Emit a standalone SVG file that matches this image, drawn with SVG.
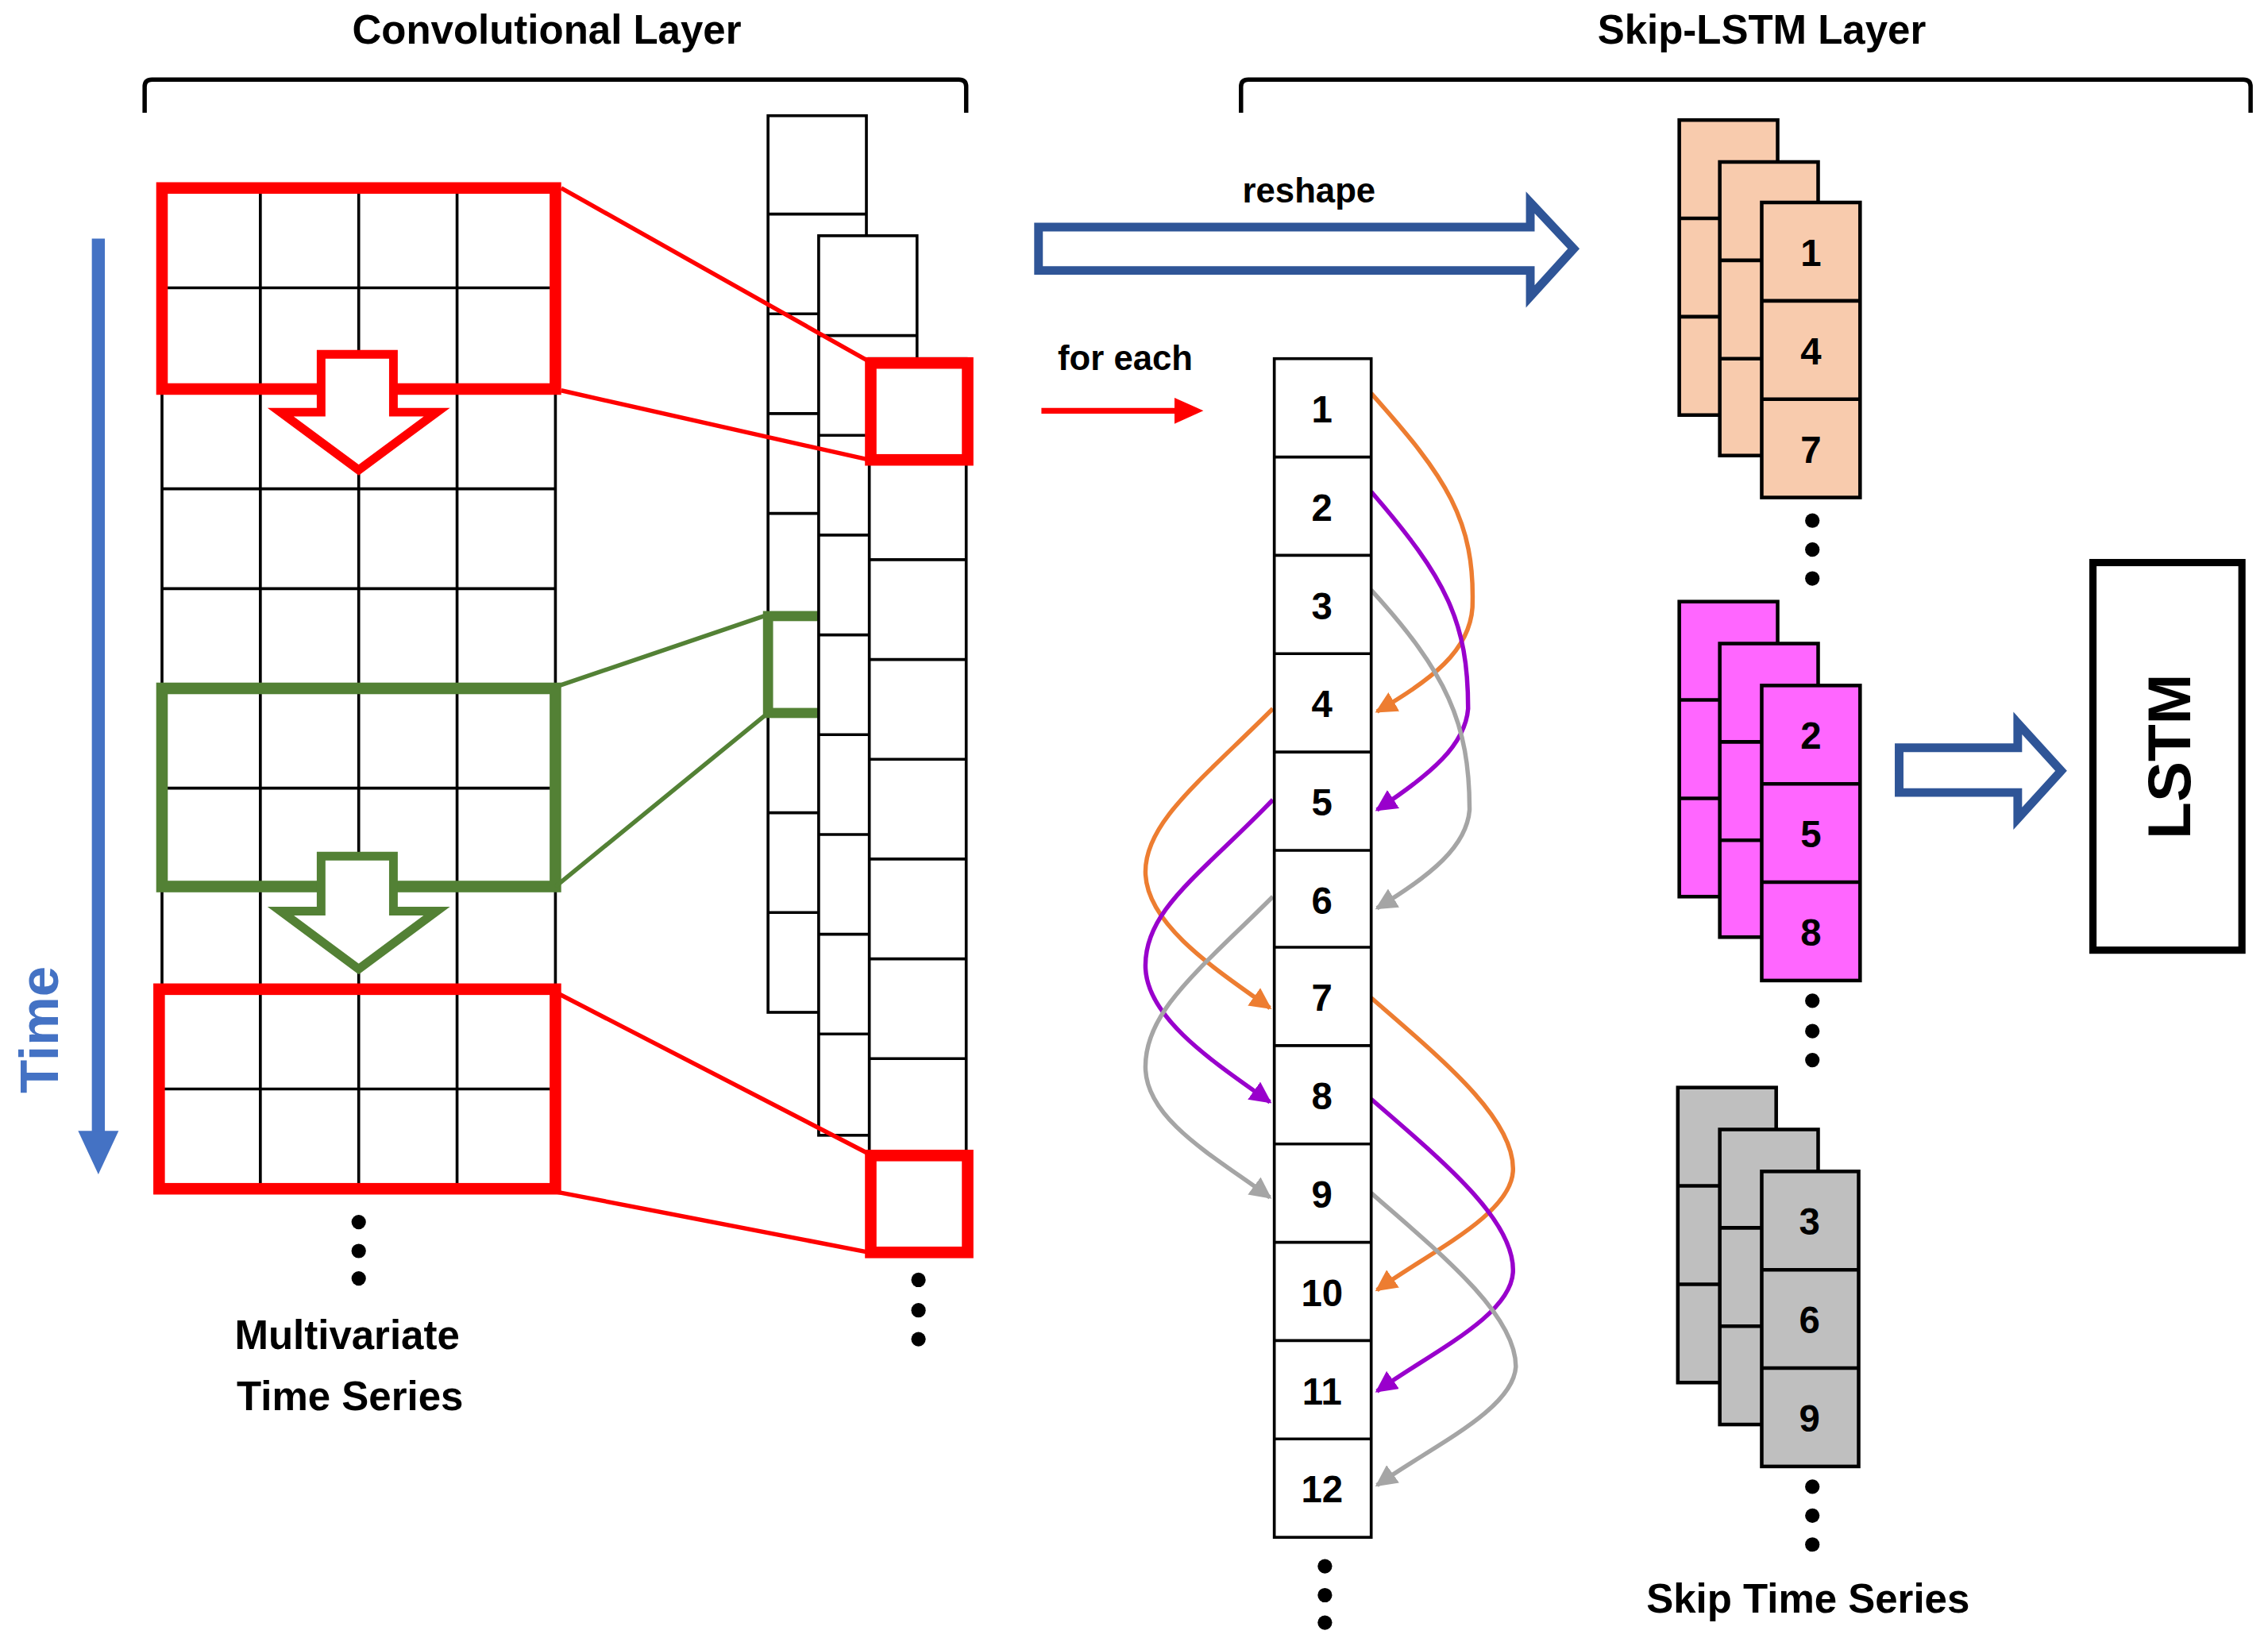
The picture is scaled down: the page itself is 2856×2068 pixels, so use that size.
<svg xmlns="http://www.w3.org/2000/svg" width="2856" height="2068" viewBox="0 0 2856 2068">
<style>
text{font-family:"Liberation Sans",Arial,sans-serif;font-weight:bold;fill:#000}
.g{fill:none;stroke:#000;stroke-width:2}
.c{fill:#fff;stroke:#000;stroke-width:2}
.num{font-size:26px;text-anchor:middle}
.lab{font-size:28px;text-anchor:middle}
.cv{fill:none;stroke-width:3}
</style>
<defs>
<marker id="ao" viewBox="0 0 10 10" refX="9" refY="5" markerWidth="5" markerHeight="5" orient="auto"><path d="M0,0L10,5L0,10z" fill="#ED7D31"/></marker>
<marker id="ap" viewBox="0 0 10 10" refX="9" refY="5" markerWidth="5" markerHeight="5" orient="auto"><path d="M0,0L10,5L0,10z" fill="#9900CC"/></marker>
<marker id="ag" viewBox="0 0 10 10" refX="9" refY="5" markerWidth="5" markerHeight="5" orient="auto"><path d="M0,0L10,5L0,10z" fill="#A5A5A5"/></marker>
</defs>
<rect width="2856" height="2068" fill="#fff"/>
<g transform="scale(1.8214)">
<g id="titles">
<text class="lab" x="378" y="30">Convolutional Layer</text>
<text class="lab" x="1218" y="30">Skip-LSTM Layer</text>
<path d="M100,78 V60 Q100,55 105,55 H663 Q668,55 668,60 V78" fill="none" stroke="#000" stroke-width="3"/>
<path d="M858,78 V60 Q858,55 863,55 H1551 Q1556,55 1556,60 V78" fill="none" stroke="#000" stroke-width="3"/>
</g>
<g id="time">
<line x1="68" y1="165" x2="68" y2="785" stroke="#4472C4" stroke-width="9"/>
<path d="M54,782 L82,782 L68,812 z" fill="#4472C4"/>
<text x="0" y="0" transform="translate(40,712) rotate(-90)" style="font-size:38px;fill:#4472C4" text-anchor="middle">Time</text>
</g>
<g id="grid">
<rect class="g" x="112" y="130" width="272" height="692"/>
<path class="g" d="M180,130V822M248,130V822M316,130V822M112,199H384M112,268H384M112,338H384M112,407H384M112,476H384M112,545H384M112,614H384M112,684H384M112,753H384"/>
<rect x="112" y="130" width="272" height="139" fill="none" stroke="#f00" stroke-width="8"/>
<path d="M222,245H272V285H302L248,325L194,285H222z" fill="#fff" stroke="#f00" stroke-width="6"/>
<rect x="112" y="476" width="272" height="137" fill="none" stroke="#538135" stroke-width="8"/>
<path d="M222,592H272V630H302L248,670L194,630H222z" fill="#fff" stroke="#538135" stroke-width="6"/>
<rect x="110" y="684" width="274" height="138" fill="none" stroke="#f00" stroke-width="8"/>
<circle cx="248" cy="845" r="5"/><circle cx="248" cy="865" r="5"/><circle cx="248" cy="884" r="5"/>
<text class="lab" x="240" y="933">Multivariate</text>
<text class="lab" x="242" y="975">Time Series</text>
</g>
<g id="featuremaps">
<rect class="c" x="531" y="80" width="68" height="620"/>
<path class="g" d="M531,148H599M531,217H599M531,286H599M531,355H599M531,424H599M531,493H599M531,562H599M531,631H599"/>
<rect x="531" y="426" width="66" height="67" fill="none" stroke="#538135" stroke-width="7"/>
<rect class="c" x="566" y="163" width="68" height="622"/>
<path class="g" d="M566,232H634M566,301H634M566,370H634M566,439H634M566,508H634M566,577H634M566,646H634M566,715H634"/>
<rect class="c" x="601" y="248" width="67" height="620"/>
<path class="g" d="M601,318H668M601,387H668M601,456H668M601,525H668M601,594H668M601,663H668M601,732H668M601,800H668"/>
<rect x="602" y="251" width="67" height="67" fill="none" stroke="#f00" stroke-width="8"/>
<rect x="602" y="799" width="67" height="67" fill="none" stroke="#f00" stroke-width="8"/>
<circle cx="635" cy="885" r="5"/><circle cx="635" cy="906" r="5"/><circle cx="635" cy="926" r="5"/>
</g>
<g id="connectors">
<path d="M388,130L601,250M388,270L601,318M384,686L601,798M384,824L601,866" stroke="#f00" stroke-width="3" fill="none"/>
<path d="M384,475L531,425M384,613L531,493" stroke="#538135" stroke-width="3" fill="none"/>
<path d="M718,157H1058V140L1088,172L1058,205V187H718z" fill="none" stroke="#2F5597" stroke-width="6"/>
<line x1="720" y1="284" x2="815" y2="284" stroke="#f00" stroke-width="4"/>
<path d="M812,275L832,284L812,293z" fill="#f00"/>
<path d="M1313,517H1395V500L1425,533L1395,566V548H1313z" fill="none" stroke="#2F5597" stroke-width="6"/>
<path class="cv" stroke="#ED7D31" marker-end="url(#ao)" d="M948,272C1000,330 1020,360 1018,420C1016,450 990,470 952,492"/>
<path class="cv" stroke="#9900CC" marker-end="url(#ap)" d="M948,340C1000,400 1015,430 1015,490C1013,515 990,535 952,560"/>
<path class="cv" stroke="#A5A5A5" marker-end="url(#ag)" d="M948,408C1000,465 1016,500 1016,560C1014,585 990,605 952,628"/>
<path class="cv" stroke="#ED7D31" marker-end="url(#ao)" d="M880,490C830,540 790,570 792,605C794,640 840,670 878,697"/>
<path class="cv" stroke="#9900CC" marker-end="url(#ap)" d="M880,553C830,605 790,630 792,670C794,705 840,735 878,762"/>
<path class="cv" stroke="#A5A5A5" marker-end="url(#ag)" d="M880,620C830,670 790,700 792,740C794,775 840,800 878,828"/>
<path class="cv" stroke="#ED7D31" marker-end="url(#ao)" d="M948,690C1000,735 1048,775 1046,810C1044,840 990,865 952,892"/>
<path class="cv" stroke="#9900CC" marker-end="url(#ap)" d="M948,760C1000,805 1048,845 1046,880C1044,910 990,935 952,962"/>
<path class="cv" stroke="#A5A5A5" marker-end="url(#ag)" d="M948,825C1000,870 1048,910 1048,945C1046,975 990,1000 952,1027"/>
</g>
<g id="sequence">
<rect class="c" x="881" y="248" width="67" height="815"/>
<path class="g" d="M881,316H948M881,384H948M881,452H948M881,520H948M881,588H948M881,655H948M881,723H948M881,791H948M881,859H948M881,927H948M881,995H948"/>
<text class="num" x="914" y="292">1</text><text class="num" x="914" y="360">2</text><text class="num" x="914" y="428">3</text><text class="num" x="914" y="496">4</text><text class="num" x="914" y="564">5</text><text class="num" x="914" y="632">6</text><text class="num" x="914" y="699">7</text><text class="num" x="914" y="767">8</text><text class="num" x="914" y="835">9</text><text class="num" x="914" y="903">10</text><text class="num" x="914" y="971">11</text><text class="num" x="914" y="1039">12</text>
<circle cx="916" cy="1083" r="5"/><circle cx="916" cy="1103" r="5"/><circle cx="916" cy="1122" r="5"/>
<text x="905" y="140" style="font-size:24px" text-anchor="middle">reshape</text>
<text x="778" y="256" style="font-size:24px" text-anchor="middle">for each</text>
</g>
<g id="stack1" stroke="#000" stroke-width="2.5">
<rect x="1161" y="83" width="68" height="204" fill="#F8CBAD"/><path d="M1161,151H1229M1161,219H1229"/>
<rect x="1189" y="112" width="68" height="203" fill="#F8CBAD"/><path d="M1189,180H1257M1189,248H1257"/>
<rect x="1218" y="140" width="68" height="204" fill="#F8CBAD"/><path d="M1218,208H1286M1218,276H1286"/>
</g>
<g id="stack1t"><text class="num" x="1252" y="184">1</text><text class="num" x="1252" y="252">4</text><text class="num" x="1252" y="320">7</text>
<circle cx="1253" cy="360" r="5"/><circle cx="1253" cy="380" r="5"/><circle cx="1253" cy="400" r="5"/></g>
<g id="stack2" stroke="#000" stroke-width="2.5">
<rect x="1161" y="416" width="68" height="204" fill="#FF66FF"/><path d="M1161,484H1229M1161,552H1229"/>
<rect x="1189" y="445" width="68" height="203" fill="#FF66FF"/><path d="M1189,513H1257M1189,581H1257"/>
<rect x="1218" y="474" width="68" height="204" fill="#FF66FF"/><path d="M1218,542H1286M1218,610H1286"/>
</g>
<g id="stack2t"><text class="num" x="1252" y="518">2</text><text class="num" x="1252" y="586">5</text><text class="num" x="1252" y="654">8</text>
<circle cx="1253" cy="692" r="5"/><circle cx="1253" cy="713" r="5"/><circle cx="1253" cy="733" r="5"/></g>
<g id="stack3" stroke="#000" stroke-width="2.5">
<rect x="1160" y="752" width="68" height="204" fill="#BFBFBF"/><path d="M1160,820H1228M1160,888H1228"/>
<rect x="1189" y="781" width="68" height="204" fill="#BFBFBF"/><path d="M1189,849H1257M1189,917H1257"/>
<rect x="1218" y="810" width="67" height="204" fill="#BFBFBF"/><path d="M1218,878H1285M1218,946H1285"/>
</g>
<g id="stack3t"><text class="num" x="1251" y="854">3</text><text class="num" x="1251" y="922">6</text><text class="num" x="1251" y="990">9</text>
<circle cx="1253" cy="1028" r="5"/><circle cx="1253" cy="1048" r="5"/><circle cx="1253" cy="1068" r="5"/>
<text class="lab" x="1250" y="1115">Skip Time Series</text></g>
<g id="lstm">
<rect x="1447" y="389" width="103" height="268" fill="#fff" stroke="#000" stroke-width="5"/>
<text transform="translate(1514,523) rotate(-90)" style="font-size:42px" text-anchor="middle">LSTM</text>
</g>
</g>
</svg>
